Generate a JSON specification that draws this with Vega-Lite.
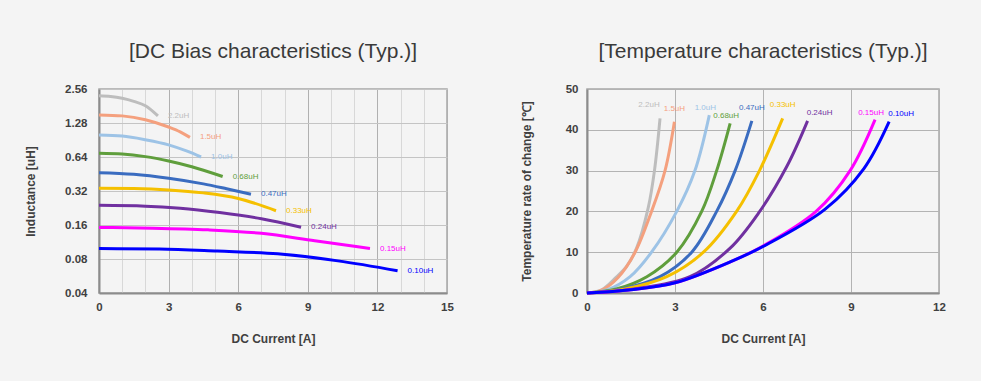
{
  "$schema": "https://vega.github.io/schema/vega-lite/v6.json",
  "background": "#f4f4f4",
  "padding": {"left": 23, "top": 40, "right": 35, "bottom": 36},
  "spacing": 140,
  "bounds": "flush",
  "config": {
    "font": "Liberation Sans",
    "view": {"stroke": "#a6a6a6", "strokeWidth": 1.5},
    "axis": {
      "labelFont": "Liberation Sans", "labelFontSize": 11.5, "labelFontWeight": "bold", "labelColor": "#404040",
      "titleFont": "Liberation Sans", "titleFontSize": 12, "titleFontWeight": "bold", "titleColor": "#404040",
      "domainColor": "#8c8c8c", "domainWidth": 2, "gridWidth": 1, "ticks": false, "labelOverlap": false, "labelFlush": false
    },
    "axisX": {"labelPadding": 8, "titlePadding": 21},
    "title": {"font": "Liberation Sans", "fontSize": 21, "fontWeight": "normal", "color": "#3a3a3a", "offset": 21, "anchor": "middle"}
  },
  "datasets": {
    "bias": [
      {"series": "2.2uH", "I": 0, "L": 2.23}, {"series": "2.2uH", "I": 0.5, "L": 2.2}, {"series": "2.2uH", "I": 1.0, "L": 2.12}, {"series": "2.2uH", "I": 1.5, "L": 1.99}, {"series": "2.2uH", "I": 2.0, "L": 1.82}, {"series": "2.2uH", "I": 2.54, "L": 1.48},
      {"series": "1.5uH", "I": 0, "L": 1.51}, {"series": "1.5uH", "I": 1, "L": 1.48}, {"series": "1.5uH", "I": 2, "L": 1.37}, {"series": "1.5uH", "I": 3, "L": 1.18}, {"series": "1.5uH", "I": 3.5, "L": 1.07}, {"series": "1.5uH", "I": 3.92, "L": 0.955},
      {"series": "1.0uH", "I": 0, "L": 1.0}, {"series": "1.0uH", "I": 1, "L": 0.98}, {"series": "1.0uH", "I": 2, "L": 0.91}, {"series": "1.0uH", "I": 3, "L": 0.82}, {"series": "1.0uH", "I": 3.8, "L": 0.72}, {"series": "1.0uH", "I": 4.4, "L": 0.64},
      {"series": "0.68uH", "I": 0, "L": 0.69}, {"series": "0.68uH", "I": 1, "L": 0.68}, {"series": "0.68uH", "I": 2, "L": 0.645}, {"series": "0.68uH", "I": 3, "L": 0.59}, {"series": "0.68uH", "I": 4, "L": 0.525}, {"series": "0.68uH", "I": 5.33, "L": 0.43},
      {"series": "0.47uH", "I": 0, "L": 0.465}, {"series": "0.47uH", "I": 1.5, "L": 0.45}, {"series": "0.47uH", "I": 3, "L": 0.415}, {"series": "0.47uH", "I": 4.5, "L": 0.37}, {"series": "0.47uH", "I": 5.5, "L": 0.335}, {"series": "0.47uH", "I": 6.55, "L": 0.3},
      {"series": "0.33uH", "I": 0, "L": 0.338}, {"series": "0.33uH", "I": 1.5, "L": 0.336}, {"series": "0.33uH", "I": 3, "L": 0.327}, {"series": "0.33uH", "I": 4.5, "L": 0.308}, {"series": "0.33uH", "I": 6, "L": 0.275}, {"series": "0.33uH", "I": 7.63, "L": 0.214},
      {"series": "0.24uH", "I": 0, "L": 0.239}, {"series": "0.24uH", "I": 2, "L": 0.235}, {"series": "0.24uH", "I": 3.5, "L": 0.225}, {"series": "0.24uH", "I": 5.2, "L": 0.206}, {"series": "0.24uH", "I": 7, "L": 0.182}, {"series": "0.24uH", "I": 8.71, "L": 0.153},
      {"series": "0.15uH", "I": 0, "L": 0.152}, {"series": "0.15uH", "I": 2.3, "L": 0.15}, {"series": "0.15uH", "I": 4.7, "L": 0.145}, {"series": "0.15uH", "I": 7, "L": 0.135}, {"series": "0.15uH", "I": 9.3, "L": 0.116}, {"series": "0.15uH", "I": 11.68, "L": 0.099},
      {"series": "0.10uH", "I": 0, "L": 0.099}, {"series": "0.10uH", "I": 2.6, "L": 0.098}, {"series": "0.10uH", "I": 5.1, "L": 0.094}, {"series": "0.10uH", "I": 7.7, "L": 0.089}, {"series": "0.10uH", "I": 10.3, "L": 0.077}, {"series": "0.10uH", "I": 12.87, "L": 0.063}
    ],
    "temp": [
      {"series": "2.2uH", "I": 0, "T": 0}, {"series": "2.2uH", "I": 0.5, "T": 0.8}, {"series": "2.2uH", "I": 1.0, "T": 3.9}, {"series": "2.2uH", "I": 1.35, "T": 6.5}, {"series": "2.2uH", "I": 1.69, "T": 11}, {"series": "2.2uH", "I": 2.09, "T": 21}, {"series": "2.2uH", "I": 2.3, "T": 30}, {"series": "2.2uH", "I": 2.49, "T": 42.8},
      {"series": "1.5uH", "I": 0, "T": 0}, {"series": "1.5uH", "I": 0.5, "T": 0.7}, {"series": "1.5uH", "I": 1.06, "T": 3.8}, {"series": "1.5uH", "I": 1.64, "T": 10}, {"series": "1.5uH", "I": 2.2, "T": 20}, {"series": "1.5uH", "I": 2.66, "T": 30}, {"series": "1.5uH", "I": 2.98, "T": 42},
      {"series": "1.0uH", "I": 0, "T": 0}, {"series": "1.0uH", "I": 0.7, "T": 0.8}, {"series": "1.0uH", "I": 1.47, "T": 4}, {"series": "1.0uH", "I": 2.2, "T": 10}, {"series": "1.0uH", "I": 3.06, "T": 20}, {"series": "1.0uH", "I": 3.68, "T": 30}, {"series": "1.0uH", "I": 4.17, "T": 43.6},
      {"series": "0.68uH", "I": 0, "T": 0}, {"series": "0.68uH", "I": 1.0, "T": 1}, {"series": "0.68uH", "I": 2.04, "T": 4}, {"series": "0.68uH", "I": 3.06, "T": 10}, {"series": "0.68uH", "I": 3.91, "T": 20}, {"series": "0.68uH", "I": 4.42, "T": 30}, {"series": "0.68uH", "I": 4.88, "T": 41.6},
      {"series": "0.47uH", "I": 0, "T": 0}, {"series": "0.47uH", "I": 1.2, "T": 1}, {"series": "0.47uH", "I": 2.49, "T": 4}, {"series": "0.47uH", "I": 3.57, "T": 10}, {"series": "0.47uH", "I": 4.42, "T": 20}, {"series": "0.47uH", "I": 5.05, "T": 30}, {"series": "0.47uH", "I": 5.62, "T": 42.2},
      {"series": "0.33uH", "I": 0, "T": 0}, {"series": "0.33uH", "I": 1.3, "T": 1}, {"series": "0.33uH", "I": 2.72, "T": 4}, {"series": "0.33uH", "I": 3.97, "T": 10}, {"series": "0.33uH", "I": 5.1, "T": 20}, {"series": "0.33uH", "I": 5.88, "T": 30}, {"series": "0.33uH", "I": 6.67, "T": 42.8},
      {"series": "0.24uH", "I": 0, "T": 0}, {"series": "0.24uH", "I": 1.6, "T": 1}, {"series": "0.24uH", "I": 3.51, "T": 4}, {"series": "0.24uH", "I": 4.88, "T": 11}, {"series": "0.24uH", "I": 5.84, "T": 19.5}, {"series": "0.24uH", "I": 6.81, "T": 31}, {"series": "0.24uH", "I": 7.52, "T": 42.2},
      {"series": "0.15uH", "I": 0, "T": 0}, {"series": "0.15uH", "I": 1.5, "T": 0.8}, {"series": "0.15uH", "I": 3, "T": 2.5}, {"series": "0.15uH", "I": 5, "T": 8}, {"series": "0.15uH", "I": 6, "T": 11.5}, {"series": "0.15uH", "I": 7.81, "T": 20}, {"series": "0.15uH", "I": 8.97, "T": 30}, {"series": "0.15uH", "I": 9.82, "T": 42.5},
      {"series": "0.10uH", "I": 0, "T": 0}, {"series": "0.10uH", "I": 1.5, "T": 0.8}, {"series": "0.10uH", "I": 3, "T": 2.5}, {"series": "0.10uH", "I": 5, "T": 8}, {"series": "0.10uH", "I": 6, "T": 11.4}, {"series": "0.10uH", "I": 8.11, "T": 20.5}, {"series": "0.10uH", "I": 9.44, "T": 30.5}, {"series": "0.10uH", "I": 10.3, "T": 42}
    ]
  },
  "hconcat": [
    {
      "width": 348, "height": 204,
      "title": {"text": "[DC Bias characteristics (Typ.)]"},
      "data": {"name": "bias"},
      "encoding": {
        "x": {"field": "I", "type": "quantitative", "scale": {"domain": [0, 15], "nice": false},
              "axis": {"title": "DC Current [A]", "values": [0,1,2,3,4,5,6,7,8,9,10,11,12,13,14,15],
                       "labelExpr": "datum.value % 3 === 0 ? datum.label : ''",
                       "gridColor": {"condition": {"test": "datum.value % 3 === 0", "value": "#b0b0b0"}, "value": "#d8d8d8"}}},
        "y": {"field": "L", "type": "quantitative", "scale": {"type": "log", "base": 2, "domain": [0.04, 2.56], "nice": false},
              "axis": {"title": "Inductance [uH]", "values": [0.04, 0.08, 0.16, 0.32, 0.64, 1.28, 2.56], "format": ".2f",
                       "gridColor": "#c4c4c4", "labelPadding": 12, "titlePadding": 27}},
        "color": {"field": "series", "type": "nominal", "legend": null,
                  "scale": {"domain": ["2.2uH","1.5uH","1.0uH","0.68uH","0.47uH","0.33uH","0.24uH","0.15uH","0.10uH"],
                            "range": ["#bdbdbd","#f4a07e","#9dc3e6","#5f9e3c","#3a6cc0","#f5c000","#7030a0","#ff00ff","#0000ff"]}}
      },
      "layer": [
        {"mark": {"type": "line", "interpolate": "monotone", "strokeWidth": 3}},
        {"transform": [
           {"joinaggregate": [{"op": "max", "field": "I", "as": "maxI"}], "groupby": ["series"]},
           {"filter": "datum.I === datum.maxI"}],
         "mark": {"type": "text", "align": "left", "baseline": "middle", "dx": 10, "fontSize": 8, "font": "Liberation Sans"},
         "encoding": {"text": {"field": "series"}}}
      ]
    },
    {
      "width": 352, "height": 204,
      "title": {"text": "[Temperature characteristics (Typ.)]"},
      "data": {"name": "temp"},
      "encoding": {
        "x": {"field": "I", "type": "quantitative", "scale": {"domain": [0, 12], "nice": false},
              "axis": {"title": "DC Current [A]", "values": [0, 3, 6, 9, 12], "gridColor": "#b3b3b3"}},
        "y": {"field": "T", "type": "quantitative", "scale": {"domain": [0, 50], "nice": false},
              "axis": {"title": "Temperature rate of change [℃]", "values": [0, 10, 20, 30, 40, 50],
                       "gridColor": "#b3b3b3", "labelPadding": 9, "titlePadding": 32}},
        "color": {"field": "series", "type": "nominal", "legend": null,
                  "scale": {"domain": ["2.2uH","1.5uH","1.0uH","0.68uH","0.47uH","0.33uH","0.24uH","0.15uH","0.10uH"],
                            "range": ["#bdbdbd","#f4a07e","#9dc3e6","#5f9e3c","#3a6cc0","#f5c000","#7030a0","#ff00ff","#0000ff"]}}
      },
      "layer": [
        {"mark": {"type": "line", "interpolate": "catmull-rom", "strokeWidth": 3}},
        {"transform": [
           {"joinaggregate": [{"op": "max", "field": "I", "as": "maxI"}], "groupby": ["series"]},
           {"filter": "datum.I === datum.maxI && (datum.series === '1.5uH' || datum.series === '0.47uH' || datum.series === '0.33uH')"}],
         "mark": {"type": "text", "align": "center", "baseline": "middle", "dy": -13, "fontSize": 8, "font": "Liberation Sans"},
         "encoding": {"text": {"field": "series"}}},
        {"transform": [
           {"joinaggregate": [{"op": "max", "field": "I", "as": "maxI"}], "groupby": ["series"]},
           {"filter": "datum.I === datum.maxI && (datum.series === '1.0uH' || datum.series === '0.68uH' || datum.series === '0.15uH')"}],
         "mark": {"type": "text", "align": "center", "baseline": "middle", "dy": -7, "dx": -4, "fontSize": 8, "font": "Liberation Sans"},
         "encoding": {"text": {"field": "series"}}},
        {"transform": [
           {"joinaggregate": [{"op": "max", "field": "I", "as": "maxI"}], "groupby": ["series"]},
           {"filter": "datum.I === datum.maxI && datum.series === '2.2uH'"}],
         "mark": {"type": "text", "align": "center", "baseline": "middle", "dy": -13, "dx": -11, "fontSize": 8, "font": "Liberation Sans"},
         "encoding": {"text": {"field": "series"}}},
        {"transform": [
           {"joinaggregate": [{"op": "max", "field": "I", "as": "maxI"}], "groupby": ["series"]},
           {"filter": "datum.I === datum.maxI && (datum.series === '0.24uH' || datum.series === '0.10uH')"}],
         "mark": {"type": "text", "align": "center", "baseline": "middle", "dy": -8, "dx": 12, "fontSize": 8, "font": "Liberation Sans"},
         "encoding": {"text": {"field": "series"}}}
      ]
    }
  ]
}
